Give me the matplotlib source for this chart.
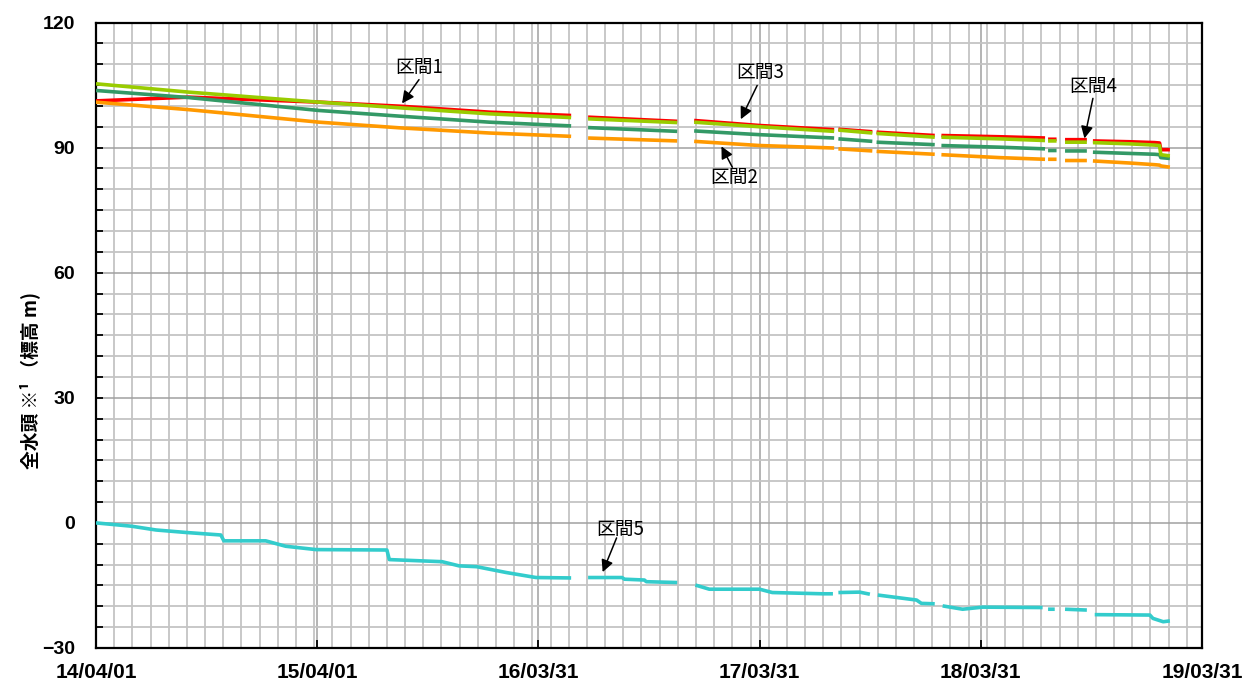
import numpy as np
import pandas as pd
import matplotlib
matplotlib.use("Agg")
import matplotlib.pyplot as plt
import matplotlib.dates as mdates
from matplotlib.ticker import FixedLocator, MultipleLocator, FuncFormatter

plt.rcParams["font.family"] = ["Liberation Sans", "Noto Sans CJK JP", "DejaVu Sans"]

# upper four series share the same record dates (None = missing data / gap)
dates_upper = [
    "2014-04-01", "2014-09-01", "2015-04-04", "2015-08-19", "2016-01-10", "2016-05-24",
    None,
    "2016-06-21", "2016-11-15",
    None,
    "2016-12-13", "2017-03-31", "2017-08-01",
    None,
    "2017-08-08", "2017-10-03",
    None,
    "2017-10-10", "2018-01-14",
    None,
    "2018-01-25", "2018-05-01", "2018-07-15",
    None,
    "2018-07-20", "2018-08-03",
    None,
    "2018-08-17", "2018-09-22",
    None,
    "2018-10-02", "2018-12-02", "2019-01-12", "2019-01-20", "2019-01-22", "2019-02-06",
]
red = [101.2, 102.1, 100.9, 99.9, 98.5, 97.7, None, 97.3, 96.3, None, 96.5, 95.3, 94.3, None,
       94.4, 93.8, None, 93.7, 92.9, None, 92.9, 92.6, 92.3, None, 92.0, 92.0, None, 91.9, 91.9,
       None, 91.6, 91.4, 91.2, 91.1, 89.5, 89.5]
yellowgreen = [105.3, 103.3, 100.9, 99.5, 98.1, 97.2, None, 96.9, 96.0, None, 96.1, 95.0, 93.9, None,
               94.2, 93.5, None, 93.4, 92.5, None, 92.5, 92.1, 91.7, None, 91.6, 91.6, None, 91.3, 91.3,
               None, 91.2, 90.9, 90.6, 90.5, 88.3, 88.0]
green = [103.7, 102.0, 98.9, 97.5, 96.1, 95.2, None, 94.8, 93.9, None, 94.0, 93.1, 92.3, None,
         92.1, 91.5, None, 91.3, 90.7, None, 90.5, 90.1, 89.7, None, 89.3, 89.3, None, 89.2, 89.2,
         None, 88.9, 88.6, 88.4, 88.3, 87.6, 87.4]
orange = [100.9, 99.1, 96.1, 94.7, 93.5, 92.7, None, 92.3, 91.6, None, 91.5, 90.5, 89.9, None,
          89.7, 89.2, None, 89.1, 88.4, None, 88.3, 87.6, 87.2, None, 87.2, 87.2, None, 86.9, 86.9,
          None, 86.8, 86.3, 85.9, 85.8, 85.6, 85.3]

dates_cyan = [
    "2014-04-01", "2014-05-30", "2014-07-09", "2014-08-28", "2014-10-24", "2014-10-29",
    "2015-01-06", "2015-02-08", "2015-03-30", "2015-07-25", "2015-07-29", "2015-10-24",
    "2015-11-21", "2015-12-20", "2016-02-07", "2016-03-27", "2016-05-24",
    None,
    "2016-06-21", "2016-08-16", "2016-08-20", "2016-09-22", "2016-09-25", "2016-11-15",
    None,
    "2016-12-15", "2017-01-07", "2017-03-31", "2017-04-21", "2017-07-13", "2017-07-30",
    None,
    "2017-08-08", "2017-09-12", "2017-09-29",
    None,
    "2017-10-12", "2017-12-15", "2017-12-23", "2018-01-14",
    None,
    "2018-01-27", "2018-03-01", "2018-04-03", "2018-07-11",
    None,
    "2018-07-20", "2018-07-31",
    None,
    "2018-08-17", "2018-09-22",
    None,
    "2018-10-05", "2019-01-04", "2019-01-09", "2019-01-26", "2019-02-06",
]
cyan = [0.0, -0.8, -1.7, -2.3, -2.9, -4.3, -4.3, -5.6, -6.4, -6.5, -8.8, -9.3,
        -10.3, -10.5, -11.9, -13.1, -13.2, None,
        -13.1, -13.1, -13.5, -13.7, -14.1, -14.3, None,
        -14.9, -15.9, -15.9, -16.7, -17.0, -17.0, None,
        -16.7, -16.6, -17.1, None,
        -17.3, -18.5, -19.3, -19.4, None,
        -19.9, -20.7, -20.2, -20.3, None,
        -20.7, -20.7, None,
        -20.7, -20.9, None,
        -22.0, -22.1, -22.9, -23.7, -23.5]

xtick_dates = ["2014-04-01", "2015-04-01", "2016-03-31", "2017-03-31", "2018-03-31", "2019-03-31"]

# annotation labels: (text, text centre, arrow tail, arrow tip)
labels = [
    ("区間1", ("2015-09-16", 109.2), ("2015-09-16", 106.3), ("2015-08-19", 100.6)),
    ("区間3", ("2017-04-01", 108.0), ("2017-03-27", 104.9), ("2017-02-28", 96.8)),
    ("区間2", ("2017-02-17", 82.9), ("2017-02-14", 85.3), ("2017-01-27", 90.3)),
    ("区間4", ("2018-10-02", 104.7), ("2018-10-02", 101.8), ("2018-09-18", 92.2)),
    ("区間5", ("2016-08-13", -1.5), ("2016-08-07", -3.6), ("2016-07-15", -11.8)),
]


def to_series(dates, values):
    # a missing date marks a gap; reuse the previous date so the x stays sorted
    xs = []
    last = None
    for d in dates:
        if d is None:
            xs.append(last + pd.Timedelta(days=2))
        else:
            last = pd.Timestamp(d)
            xs.append(last)
    ys = np.array([np.nan if v is None else v for v in values], dtype=float)
    return mdates.date2num(xs), ys


def dnum(d):
    return mdates.date2num(pd.Timestamp(d))


fig = plt.figure(figsize=(12.47, 6.86), dpi=100)
ax = fig.add_axes([96 / 1247, 1 - 648 / 686, (1202 - 96) / 1247, (648 - 22.5) / 686])

series = [
    (red, "#FF0000"),
    (orange, "#FF9900"),
    (green, "#339966"),
    (yellowgreen, "#99CC00"),
]
for vals, col in series:
    x, y = to_series(dates_upper, vals)
    ax.plot(x, y, color=col, lw=2.6, solid_capstyle="butt", zorder=3)

x, y = to_series(dates_cyan, cyan)
ax.plot(x, y, color="#33CCCC", lw=2.6, solid_capstyle="butt", zorder=3)

x0 = dnum("2014-04-01")
x1 = dnum("2019-03-31")
ax.set_xlim(x0, x1)
ax.set_ylim(-30, 120)

ax.xaxis.set_major_locator(FixedLocator([dnum(d) for d in xtick_dates]))
ax.xaxis.set_minor_locator(FixedLocator(list(np.arange(x0 + 30, x1, 30))))
ax.xaxis.set_major_formatter(FuncFormatter(lambda v, p: mdates.num2date(v).strftime("%y/%m/%d")))
ax.yaxis.set_major_locator(MultipleLocator(30))
ax.yaxis.set_minor_locator(MultipleLocator(5))

ax.grid(which="minor", color="#c4c4c4", lw=1.3)
ax.grid(which="major", color="#a0a0a0", lw=1.1)
ax.set_axisbelow(True)

for s in ax.spines.values():
    s.set_linewidth(1.6)
    s.set_color("black")

ax.tick_params(axis="both", which="both", direction="in", colors="black")
ax.tick_params(axis="y", which="major", length=5, width=1.3, pad=15, labelsize=14)
ax.tick_params(axis="y", which="minor", length=5, width=1.3)
ax.tick_params(axis="x", which="major", length=6, width=1.3, pad=11, labelsize=15)
ax.tick_params(axis="x", which="minor", length=0)
for lab in ax.get_xticklabels() + ax.get_yticklabels():
    lab.set_fontweight("bold")

fig.text(30 / 1247, 1 - 380 / 686, "全水頭 ※¹ （標高 m)", rotation=90, ha="center", va="center",
         fontsize=13.5, fontweight="bold", family=["Noto Sans CJK JP", "DejaVu Sans"])

for txt, (td, tv), (sd, sv), (ad, av) in labels:
    ax.text(dnum(td), tv, txt, ha="center", va="center", fontsize=13.5,
            family=["Noto Sans CJK JP", "DejaVu Sans"], zorder=5)
    ax.annotate("", xy=(dnum(ad), av), xytext=(dnum(sd), sv),
                arrowprops=dict(arrowstyle="-|>", color="black", lw=1.1,
                                mutation_scale=18, shrinkA=0, shrinkB=0),
                zorder=5)

fig.savefig("out.png", dpi=100)
